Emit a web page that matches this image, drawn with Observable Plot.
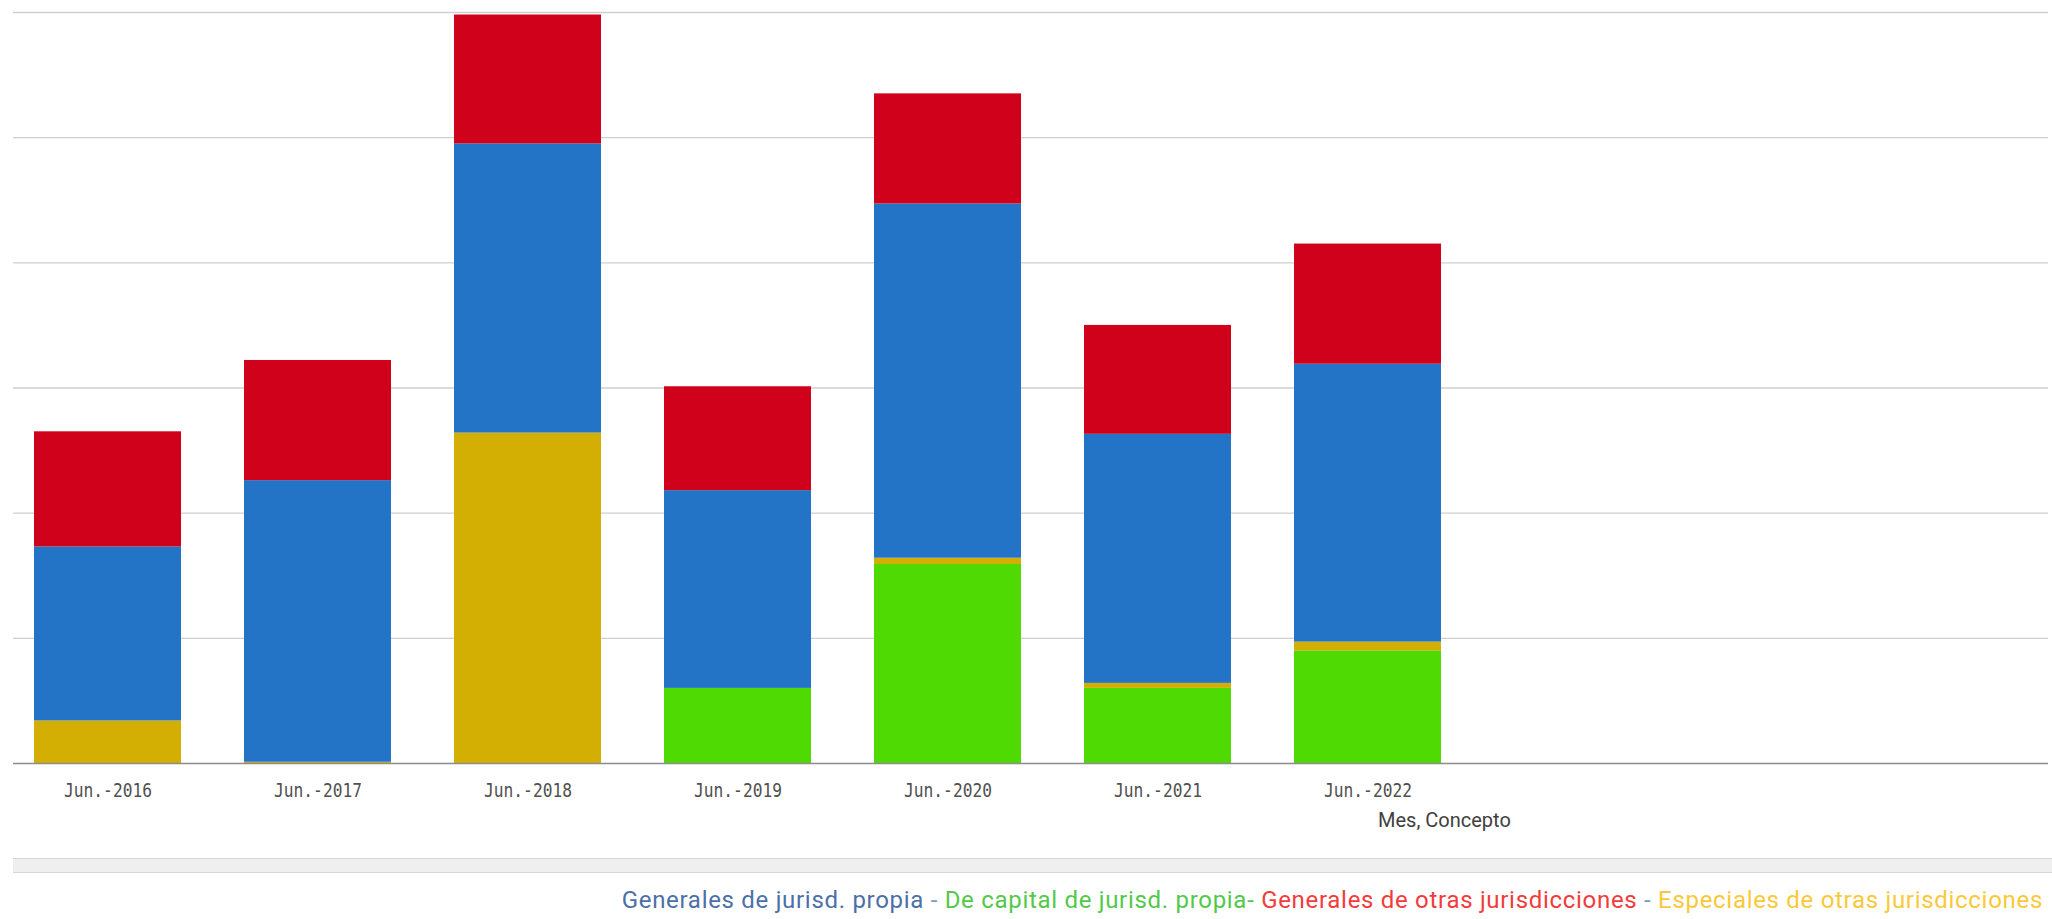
<!DOCTYPE html>
<html>
<head>
<meta charset="utf-8">
<script src="https://cdn.jsdelivr.net/npm/d3@7"></script>
<script src="https://cdn.jsdelivr.net/npm/@observablehq/plot@0.6"></script>
<style>
  html, body { margin: 0; padding: 0; background: #fff; }
  #wrap { width: 2052px; }
  #band { width: 2039px; margin-left: 13px; height: 13px; background: #efefef; border-top: 1px solid #d6d6d6; border-bottom: 1px solid #d6d6d6; }
  #legend { width: 2052px; height: 45px; box-sizing: border-box; padding-right: 9px; text-align: right;
            font-family: Roboto, "Noto Sans", sans-serif; font-size: 24px; letter-spacing: 0.7px; line-height: 54px; white-space: nowrap; }
</style>
</head>
<body>
<div id="wrap">
  <div id="chart"></div>
  <div id="band"></div>
  <div id="legend"></div>
</div>
<script>
const meses = ["Jun.-2016", "Jun.-2017", "Jun.-2018", "Jun.-2019", "Jun.-2020", "Jun.-2021", "Jun.-2022"];
const conceptos = [
  "De capital de jurisd. propia",
  "Especiales de otras jurisdicciones",
  "Generales de jurisd. propia",
  "Generales de otras jurisdicciones"
];
const capitalPropia   = [0, 0, 0, 60, 159, 60, 90];
const especialesOtras = [34, 1, 264, 0, 5, 4, 7];
const generalesPropia = [139, 225, 231, 158, 283, 199, 222];
const generalesOtras  = [92, 96, 103, 83, 88, 87, 96];
const colores = ["#4FDA04", "#D3AE03", "#2373C6", "#D0021B"];
const yTicks = [100, 200, 300, 400, 500, 600];

const seriesValues = [capitalPropia, especialesOtras, generalesPropia, generalesOtras];
const table = meses.flatMap((m, i) => conceptos.map((c, j) => ({mes: m, concepto: c, valor: seriesValues[j][i]})));

const chart = Plot.plot({
  width: 2052,
  height: 858,
  marginTop: 12,
  marginBottom: 95,
  marginLeft: 13,
  marginRight: 4,
  style: {background: "#fff", overflow: "visible"},
  x: {type: "band", domain: meses, range: [13, 1462], paddingInner: 0.3, paddingOuter: 0.1},
  y: {domain: [0, 600], axis: null},
  color: {domain: conceptos, range: colores},
  marks: [
    Plot.ruleY(yTicks, {stroke: "#cfcfcf", strokeWidth: 1.4}),
    Plot.barY(table, {x: "mes", y: "valor", fill: "concepto", order: conceptos}),
    Plot.ruleY([0], {stroke: "#8c8c8c", strokeWidth: 1.6}),
    Plot.axisX({tickSize: 0, tickPadding: 19, label: null,
      fontFamily: "'DejaVu Sans Mono', monospace", fontSize: 20, fill: "#505050"}),
    Plot.text(["Mes, Concepto"], {x: () => meses[meses.length - 1], frameAnchor: "bottom",
      dx: 10, dy: 57, textAnchor: "start", lineAnchor: "middle",
      fontFamily: "Roboto, sans-serif", fontSize: 20, fill: "#404040"})
  ]
});
d3.select(chart).selectAll("g[aria-label='x-axis tick label'] text")
  .attr("textLength", 88).attr("lengthAdjust", "spacingAndGlyphs");
document.getElementById("chart").appendChild(chart);

const legendParts = [
  ["Generales de jurisd. propia", "#4B70A9"], [" - ", "#7B9BC2"],
  ["De capital de jurisd. propia", "#52C94A"], ["- ", "#52C94A"],
  ["Generales de otras jurisdicciones", "#F23B3B"], [" - ", "#7B9BC2"],
  ["Especiales de otras jurisdicciones", "#F9C93A"]
];
const legend = d3.select("#legend");
legendParts.forEach(([t, c]) => legend.append("span").style("color", c).text(t));
</script>
</body>
</html>
